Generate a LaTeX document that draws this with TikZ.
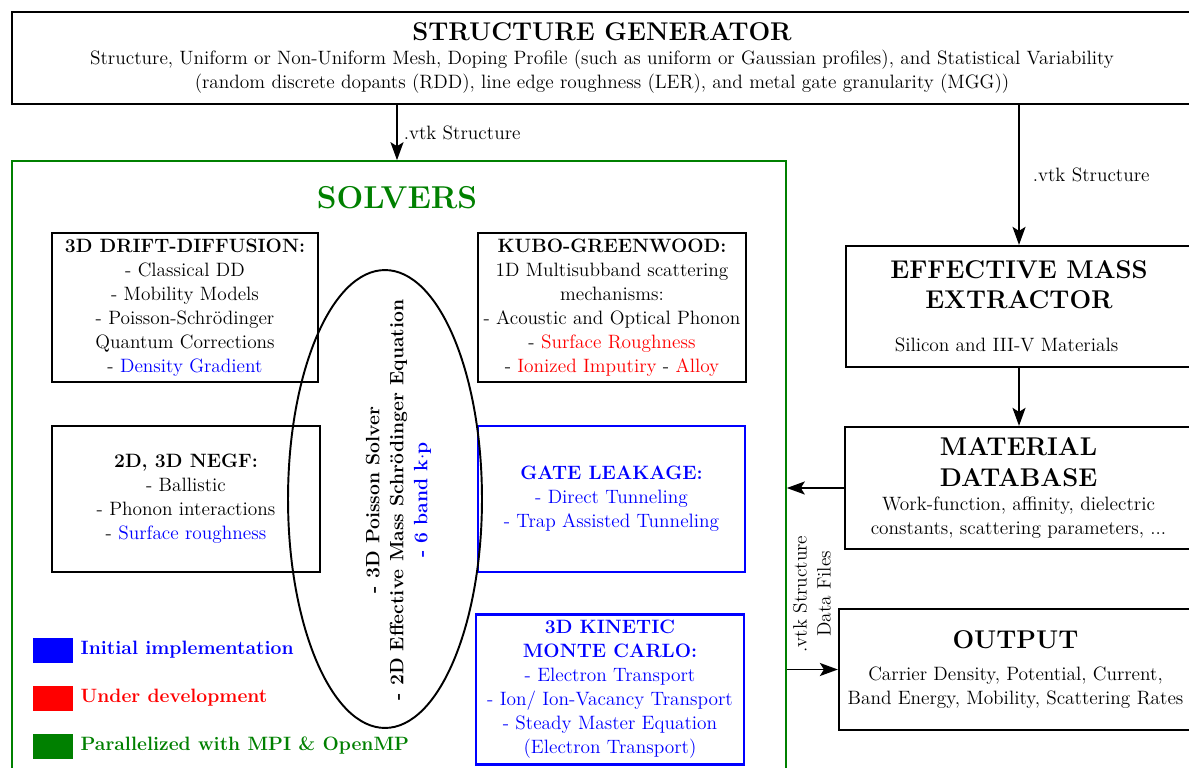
\documentclass[tikz,border=0pt]{standalone}
\usepackage{tikz}
\usetikzlibrary{arrows.meta, shapes.geometric, positioning}
\definecolor{solvgreen}{RGB}{0,128,0}
\definecolor{implblue}{RGB}{0,0,255}
\definecolor{devred}{RGB}{255,0,0}
\newcommand{\bodysize}{\fontsize{11}{13.66}\selectfont}
\newcommand{\headsize}{\fontsize{14.6}{17.4}\selectfont}
\tikzset{
  blk/.style={draw, line width=1.3pt, align=center, inner xsep=0pt, font=\bodysize},
  bluebox/.style={blk, draw=implblue, text=implblue},
  flow/.style={-{Stealth[length=3.6mm, width=2.6mm, inset=0.8mm]}, line width=1.1pt},
  lab/.style={font=\bodysize},
  key/.style={minimum width=0.8cm, minimum height=0.5cm, inner sep=0pt},
  keytext/.style={font=\bodysize\bfseries, inner sep=0pt}
}

\begin{document}
\begin{tikzpicture}[x=0.02cm, y=-0.02cm]
\useasboundingbox (0,0) rectangle (1189,767);
% structure generator
\node[blk, minimum width=23.6cm, minimum height=1.84cm] (gen) at (602,58)
  {{\headsize\bfseries STRUCTURE GENERATOR}\\
   Structure, Uniform or Non-Uniform Mesh, Doping Profile (such as uniform or Gaussian profiles), and Statistical Variability\\
   (random discrete dopants (RDD), line edge roughness (LER), and metal gate granularity (MGG))};
% solvers frame
\node[draw=solvgreen, line width=1pt, minimum width=15.48cm, minimum height=12.6cm] (solvers) at (399,476) {};
\node[font=\fontsize{18}{22}\selectfont\bfseries, text=solvgreen] (soltitle) at (397,198) {SOLVERS};
\node[blk, minimum width=5.32cm, minimum height=2.9cm] (dd) at (185,307.5)
  {\textbf{3D DRIFT-DIFFUSION:}\\ - Classical DD\\ - Mobility Models\\ - Poisson-Schrödinger\\ Quantum Corrections\\ - \textcolor{implblue}{Density Gradient}};
\node[blk, minimum width=5.36cm, minimum height=2.9cm] (kg) at (612,307.5)
  {\textbf{KUBO-GREENWOOD:}\\ 1D Multisubband scattering\\ mechanisms:\\ - Acoustic and Optical Phonon\\ - \textcolor{devred}{Surface Roughness}\\ - \textcolor{devred}{Ionized Imputiry} - \textcolor{devred}{Alloy}};
\node[blk, minimum width=5.36cm, minimum height=2.92cm] (negf) at (186,499)
  {\textbf{2D, 3D NEGF:}\\ - Ballistic\\ - Phonon interactions\\ - \textcolor{implblue}{Surface roughness}};
\node[bluebox, minimum width=5.34cm, minimum height=2.92cm] (gate) at (611.5,499)
  {\textbf{GATE LEAKAGE:}\\ - Direct Tunneling\\ - Trap Assisted Tunneling};
\node[bluebox, minimum width=5.36cm, minimum height=2.9cm] (kmc) at (610,689.5)
  {\textbf{3D KINETIC}\\ \textbf{MONTE CARLO:}\\ - Electron Transport\\ - Ion/ Ion-Vacancy Transport\\ - Steady Master Equation\\ (Electron Transport)};
% poisson / schroedinger
\node[ellipse, draw, line width=1.1pt, minimum width=3.88cm, minimum height=9.16cm, inner sep=0pt] (poisson) at (385,499) {};
\node[rotate=90, align=center, font=\bodysize\bfseries] (poissontext) at (398.5,500)
  {- 3D Poisson Solver\\ - 2D Effective Mass Schrödinger Equation\\ \textcolor{implblue}{- 6 band k$\cdot$p}};
% legend
\node[key, fill=implblue] (kblue) at (53,650) {};
\node[key, fill=devred] (kred) at (53,698) {};
\node[key, fill=solvgreen] (kgreen) at (53,746) {};
\node[keytext, text=implblue, right=0.14cm of kblue] (tblue) {Initial implementation};
\node[keytext, text=devred, right=0.14cm of kred] (tred) {Under development};
\node[keytext, text=solvgreen, right=0.14cm of kgreen] (tgreen) {Parallelized with MPI \& OpenMP};
% right column
\node[blk, minimum width=6.92cm, minimum height=2.42cm] (eme) at (1019,306.5)
  {{\headsize\bfseries EFFECTIVE MASS}\\[3pt] {\headsize\bfseries EXTRACTOR}\\[11pt] Silicon and III-V Materials\hspace*{0.5cm}};
\node[blk, minimum width=6.94cm, minimum height=2.44cm] (md) at (1018.5,488)
  {{\headsize\bfseries MATERIAL}\\[4pt] {\headsize\bfseries DATABASE}\\ Work-function, affinity, dielectric\\ constants, scattering parameters, ...};
\node[blk, minimum width=7.06cm, minimum height=2.42cm] (out) at (1015.5,669.5)
  {{\headsize\bfseries OUTPUT}\\[5pt] Carrier Density, Potential, Current,\\ Band Energy, Mobility, Scattering Rates};
% connectors
\draw[flow] (gen.south -| soltitle) -- (solvers.north -| soltitle) node[midway, right, lab] {.vtk Structure};
\draw[flow] (gen.south -| eme.north) -- (eme.north) node[midway, right, lab, xshift=4pt] {.vtk Structure};
\draw[flow] (eme.south) -- (eme.south |- md.north);
\draw[flow] (md.west) -- (md.west -| solvers.east);
\draw[flow] (out.west -| solvers.east) -- (out.west);
\node[rotate=90, align=center, lab] (files) at (812,594) {.vtk Structure\\ Data Files};
\end{tikzpicture}
\end{document}
